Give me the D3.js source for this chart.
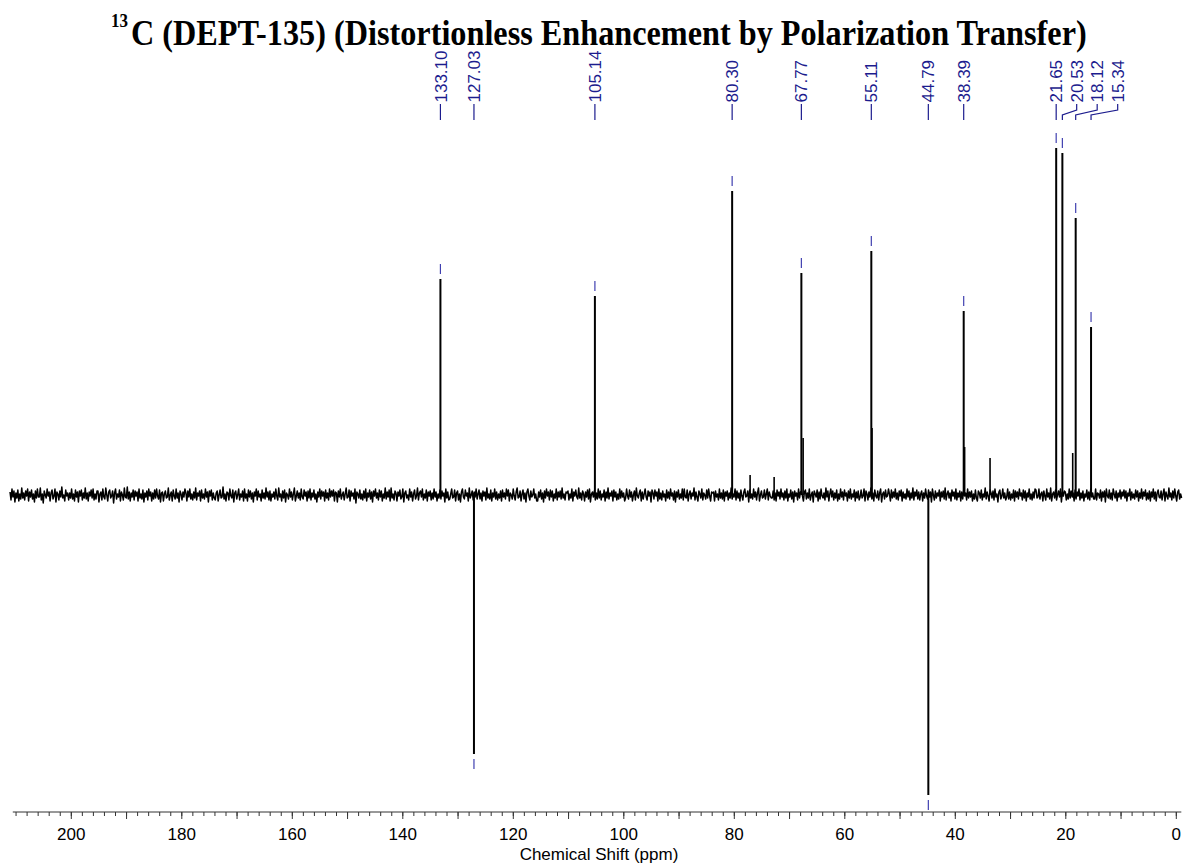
<!DOCTYPE html>
<html><head><meta charset="utf-8">
<script src="https://cdn.jsdelivr.net/npm/d3@7"></script>
<style>body{margin:0;background:#fff}svg{display:block}</style>
</head><body><svg id="c" width="1185" height="865"></svg>
<script>
// ---- data ----
const peakShifts  = [133.10, 127.03, 105.14, 80.30, 67.77, 55.11, 44.79, 38.39, 21.65, 20.53, 18.12, 15.34];
const peakLabels  = ["133.10","127.03","105.14","80.30","67.77","55.11","44.79","38.39","21.65","20.53","18.12","15.34"];
const peakHeights = [216, -259, 199, 304, 222, 244, -300, 184, 347, 342, 277, 168];
const minorShifts  = [67.45, 54.98, 38.22, 33.62, 18.66, 77.05, 72.70];
const minorHeights = [57, 67, 48, 37, 42, 20, 18];
const axisLabels = [200, 180, 160, 140, 120, 100, 80, 60, 40, 20, 0];
const noiseStart = 211.0, noiseEnd = -1.05;
const noise = [
3,-5,6,-2,4,-7,2,-3,5,-6,1,-4,7,-3,2,-5,4,-1,6,-6,3,-2,5,-4,1,-7,4,-3,6,-2,
-2,7,-5,1,-8,4,0,-3,6,-1,3,-6,2,5,-4,-1,6,-7,3,1,-5,4,-2,8,-3,0,-6,5,-1,2,
-5,2,-3,6,-4,1,-6,5,-2,3,-7,4,-1,5,-5,2,-3,7,-4,2,-6,3,-1,5,-3,6,-5,1,-4,4,
4,-7,1,3,-5,6,-2,-4,7,0,-6,3,5,-3,-1,4,-8,2,6,-4,1,-2,5,-6,3,0,-5,7,-2,-3,
8,-4,3,-6,2,-2,5,-5,4,-1,3,-6,6,-3,1,-4,5,-7,2,-2,4,-5,6,-1,3,-6,2,-4,5,-3,
6,-1,-4,5,-7,2,3,-6,1,4,-3,-2,7,-5,0,3,-6,5,-1,-4,6,-3,2,-7,4,1,-5,3,-2,6,
2,-6,4,-2,6,-4,1,-5,3,-3,7,-5,2,-1,4,-6,5,-3,1,-4,6,-2,3,-7,4,-1,5,-5,2,-3,
-5,2,4,-6,0,5,-3,-2,8,-4,1,-6,3,2,-5,6,-1,-3,5,-7,2,4,-4,0,6,-5,1,-2,4,-6,
6,-3,1,-6,5,-2,4,-4,2,-7,3,-1,6,-5,4,-2,1,-6,5,-3,2,-4,7,-2,3,-5,4,-6,1,-2,
3,-4,6,-1,-5,7,-2,1,-6,4,-3,5,-7,2,0,-4,6,-2,3,-5,1,7,-6,-1,4,-3,2,-5,6,-2,
-4,5,-1,3,-6,4,-3,6,-5,2,-2,5,-4,1,-7,3,-2,6,-4,4,-1,3,-6,5,-3,2,-5,6,-2,4,
-1,5,-6,3,2,-7,4,-2,6,-4,0,3,-5,1,7,-3,-2,5,-6,4,-1,2,-4,6,-8,3,1,-3,5,-4,
1,-5,4,-3,6,-6,2,-2,5,-4,3,-7,4,-1,6,-3,2,-5,5,-2,4,-6,1,-3,7,-4,3,-2,5,-6,
7,-3,1,-5,4,2,-6,3,-1,5,-4,-2,6,-7,2,4,-3,0,-5,6,-2,3,-6,1,5,-4,-1,7,-5,2,
4,-2,6,-5,1,-3,5,-6,3,-1,4,-5,2,-4,6,-2,3,-6,1,-3,5,-4,4,-1,2,-7,6,-3,3,-5,
-4,1,6,-3,-2,5,-6,2,4,-5,1,-7,3,6,-2,-4,5,-1,2,-6,7,-3,0,4,-5,3,-2,6,-4,1,
5,-4,2,-6,4,-1,3,-5,7,-3,1,-4,5,-6,2,-2,6,-4,3,-5,1,-3,4,-6,5,-2,2,-4,6,-1,
5,-6,2,0,-4,6,-1,-5,3,7,-3,-2,4,-6,1,5,-4,2,-7,3,6,-1,-5,4,-2,0,6,-3,1,-6,
-6,3,-2,5,-4,2,-7,4,-3,6,-1,3,-5,5,-2,4,-6,1,-3,6,-5,3,-2,4,-4,7,-3,1,-5,3,
2,4,-5,1,-3,6,-6,3,-1,5,-2,-4,7,-3,2,-5,4,1,-6,3,-2,5,-4,6,-7,1,3,-2,4,-5,
2,-4,6,-3,4,-5,1,-2,5,-6,3,-3,7,-4,2,-1,4,-6,5,-2,3,-5,1,-4,6,-3,4,-2,2,-6,
-3,6,-1,-4,5,-2,3,-6,0,4,-5,7,-1,-3,2,5,-6,3,-4,1,6,-2,-5,4,-1,3,-7,5,2,-4,
5,-1,3,-6,6,-4,2,-5,4,-2,1,-6,5,-3,3,-4,6,-1,2,-5,4,-7,3,-2,5,-4,1,-3,6,-5,
6,-2,-3,5,-6,1,4,-4,2,-1,7,-5,3,-2,-6,4,1,-3,6,-5,2,0,-4,5,-3,6,-1,-6,3,2,
3,-6,4,-2,1,-5,6,-3,2,-4,5,-6,3,-1,4,-5,2,-3,7,-4,1,-2,6,-5,4,-3,2,-6,5,-1,
-5,3,6,-2,-1,4,-7,5,-3,1,-4,6,-2,3,-5,2,7,-6,0,4,-3,-2,5,-4,1,6,-5,3,-1,-3,
-3,4,-5,2,-6,5,-1,3,-4,6,-2,2,-5,4,-3,6,-6,1,-2,5,-4,3,-7,4,-1,2,-5,6,-3,3,
4,-1,-6,3,5,-4,2,-3,6,-5,0,3,-7,4,1,-2,5,-6,3,-4,6,-1,-3,2,-5,7,-2,4,-6,1,
6,-2,4,-5,2,-3,5,-6,1,-4,6,-2,3,-5,5,-1,2,-6,4,-3,6,-4,1,-2,5,-6,3,-3,4,-5,
-2,5,-3,-1,6,-6,4,1,-5,3,-2,7,-4,2,-6,5,-1,-3,4,-5,2,6,-7,1,3,-4,5,-2,-1,6,
1,-6,5,-3,3,-2,6,-4,2,-5,4,-1,5,-6,3,-3,1,-4,6,-2,4,-5,2,-3,7,-5,3,-1,5,-4,
3,-5,1,4,-6,2,-3,6,-1,-4,5,-2,3,-7,6,0,-5,4,-3,2,-1,5,-6,3,-2,4,-4,7,-5,1,
4,-3,2,-6,5,-1,3,-4,6,-5,2,-2,4,-6,3,-4,5,-1,2,-5,6,-3,3,-2,4,-6,1,-4,5,-3,
-6,4,2,-3,5,-5,1,-2,7,-4,3,-1,-6,5,2,-3,4,-5,6,-2,1,-7,3,5,-4,-1,6,-3,2,-5,
-2,6,-4,3,-5,1,-3,5,-6,4,-2,3,-4,6,-1,2,-5,5,-3,4,-6,2,-2,6,-4,1,-5,3,-3,6,
5,-3,-2,6,-4,1,3,-6,4,-1,-5,6,-2,2,-4,7,-6,1,3,-3,5,-5,0,4,-2,6,-7,3,-1,4,
3,-5,1,-4,6,-3,4,-2,2,-6,5,-4,3,-1,6,-5,2,-3,4,-6,1,-2,5,-4,3,-5,6,-2,2,-4,
-4,6,-5,2,1,-3,5,-6,3,-2,4,-7,6,-1,-3,5,-4,2,-5,6,1,-3,4,-6,2,-2,5,-4,3,-1,
5,-3,4,-6,2,-1,6,-5,3,-3,1,-4,5,-2,4,-6,2,-3,6,-4,3,-1,5,-5,2,-4,4,-6,3,-2,
6,-4,3,-6,2,5,-2,-3,4,-5,1,6,-6,3,-1,-4,7,-2,2,-5,4,-3,6,-1,-6,3,5,-4,1,-3
];
const titleSup = "13";
const titleMain = "C (DEPT-135) (Distortionless Enhancement by Polarization Transfer)";
const xTitle = "Chemical Shift (ppm)";

// ---- drawing ----
const svg = d3.select("#c");
const labelColor = "#1c1c8e";
const sans = "'Liberation Sans',Arial,sans-serif";
const serif = "'Liberation Serif','Times New Roman',serif";
const x = d3.scaleLinear().domain([200, 0]).range([70.8, 1175.8]);
const y = d3.scaleLinear().domain([0, 347]).range([495, 148]);

// title (condensed bold serif)
const supG = svg.append("g");
const tSup = supG.append("text").attr("font-family", serif).attr("font-weight", "bold")
  .attr("font-size", 19).attr("fill", "#000").text(titleSup);
const sw = tSup.node().getComputedTextLength();
supG.attr("transform", `translate(111,27) scale(${17 / sw},1)`);
const mainG = svg.append("g");
const tMain = mainG.append("text").attr("font-family", serif).attr("font-weight", "bold")
  .attr("font-size", 35).attr("fill", "#000").text(titleMain);
const w = tMain.node().getComputedTextLength();
mainG.attr("transform", `translate(131,45) scale(${956 / w},1)`);

// noise baseline
const step = (noiseStart - noiseEnd) / (noise.length - 1);
const line = d3.line().x((d, i) => x(noiseStart - i * step)).y(d => y(d));
svg.append("path").datum(noise).attr("d", line)
  .attr("fill", "none").attr("stroke", "#000").attr("stroke-width", 1.5).attr("stroke-linejoin", "round");

// minor peaks
svg.append("g").selectAll("line").data(minorShifts).join("line")
  .attr("x1", d => x(d)).attr("x2", d => x(d))
  .attr("y1", y(0)).attr("y2", (d, i) => y(minorHeights[i]))
  .attr("stroke", "#000").attr("stroke-width", 1.6);

// main peaks
svg.append("g").selectAll("line").data(peakShifts).join("line")
  .attr("x1", d => x(d)).attr("x2", d => x(d))
  .attr("y1", y(0)).attr("y2", (d, i) => y(peakHeights[i]))
  .attr("stroke", "#000").attr("stroke-width", 2);

// peak markers
svg.append("g").selectAll("line").data(peakShifts).join("line")
  .attr("x1", d => x(d)).attr("x2", d => x(d))
  .attr("y1", (d, i) => peakHeights[i] > 0 ? y(peakHeights[i]) - 15 : y(peakHeights[i]) + 5)
  .attr("y2", (d, i) => peakHeights[i] > 0 ? y(peakHeights[i]) - 5 : y(peakHeights[i]) + 15)
  .attr("stroke", "#4040b0").attr("stroke-width", 1.2);

// peak labels with spreading
const order = peakShifts.map((d, i) => i).sort((a, b) => x(peakShifts[a]) - x(peakShifts[b]));
const labelX = [];
let prev = -1e9;
order.forEach(i => {
  const px = x(peakShifts[i]);
  const lx = Math.max(px, prev + 20.5);
  labelX[i] = lx; prev = lx;
});
const lg = svg.append("g");
peakShifts.forEach((d, i) => {
  const px = x(d), lx = labelX[i];
  lg.append("text")
    .attr("transform", `translate(${lx},102.5) rotate(-90)`)
    .attr("dy", "0.36em")
    .attr("font-family", sans).attr("font-size", 17)
    .attr("fill", labelColor).text(peakLabels[i]);
  const straight = Math.abs(lx - px) < 0.5;
  const pts = [[lx, 104], [lx, 110], [px, 115], [px, 120]];
  lg.append("path").attr("d", straight ? `M${lx},104V120` : d3.line()(pts))
    .attr("fill", "none").attr("stroke", labelColor).attr("stroke-width", 1.2);
});

// axis
const axisY = 812;
svg.append("line").attr("x1", x(210.5)).attr("x2", x(-1)).attr("y1", axisY).attr("y2", axisY)
  .attr("stroke", "#333").attr("stroke-width", 1);
const minorAx = svg.append("g").attr("transform", `translate(0,${axisY})`)
  .call(d3.axisBottom(x).tickValues(d3.range(0, 211, 2)).tickSize(4).tickFormat("").tickSizeOuter(0));
const majorAx = svg.append("g").attr("transform", `translate(0,${axisY})`)
  .call(d3.axisBottom(x).tickValues(d3.range(0, 201, 10)).tickSize(7).tickPadding(9).tickSizeOuter(0)
    .tickFormat(d => axisLabels.includes(d) ? d : ""));
[minorAx, majorAx].forEach(g => {
  g.select(".domain").remove();
  g.selectAll(".tick line").attr("stroke", "#333");
});
majorAx.selectAll(".tick text").attr("font-family", sans)
  .attr("font-size", 17).attr("fill", "#000");

svg.append("text").attr("x", 599).attr("y", 860).attr("text-anchor", "middle")
  .attr("font-family", sans).attr("font-size", 17)
  .attr("fill", "#000").text(xTitle);
</script>
</body></html>
